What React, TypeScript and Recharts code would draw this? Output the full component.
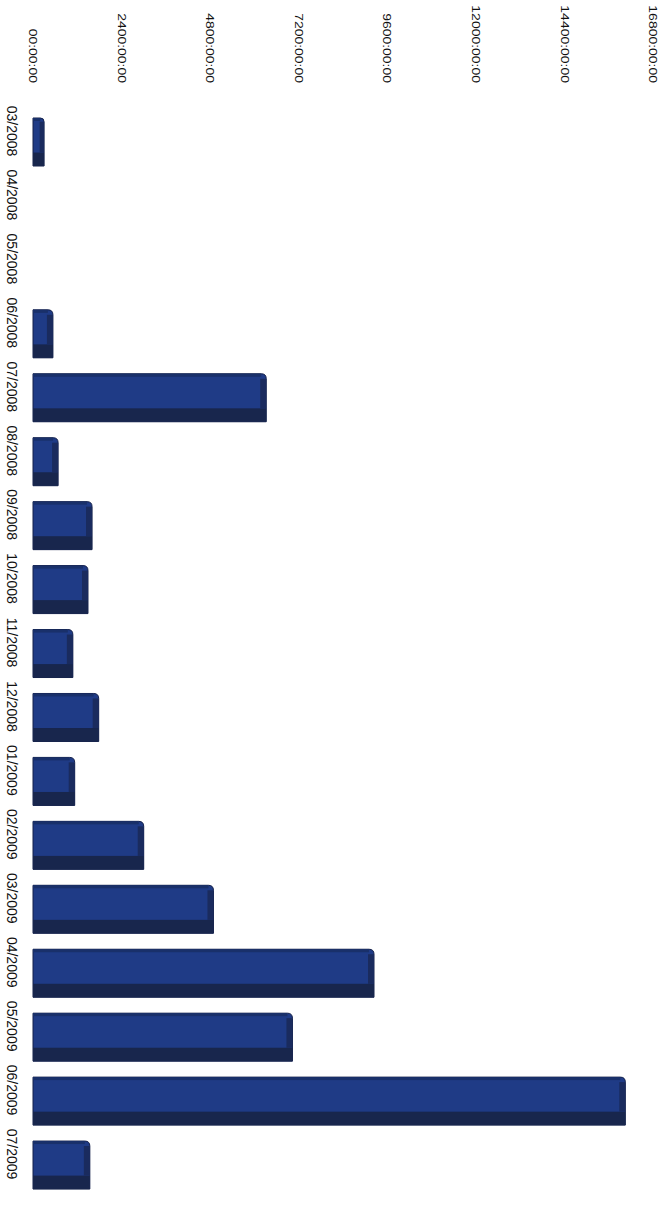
import React from "react";
import { BarChart, Bar, XAxis, YAxis } from "recharts";

const months = [
  "03/2008", "04/2008", "05/2008", "06/2008", "07/2008", "08/2008",
  "09/2008", "10/2008", "11/2008", "12/2008", "01/2009", "02/2009",
  "03/2009", "04/2009", "05/2009", "06/2009", "07/2009",
];

// hours per month
const hours = [
  300, 0, 0, 540, 6320, 680, 1600, 1490, 1080, 1780, 1130, 3000,
  4890, 9240, 7030, 16050, 1540,
];

const hourTicks = [0, 2400, 4800, 7200, 9600, 12000, 14400, 16800];

const data = months.map((m, i) => ({ month: m, hours: hours[i] }));

const fmtHours = (v: number) => `${v === 0 ? "00" : v}:00:00`;

const HourTick = (props: any) => {
  const { x, payload } = props;
  return (
    <text
      transform={`translate(${x}, 83) rotate(90) scale(1.27, 1)`}
      textAnchor="end"
      dy="0.35em"
      fontSize={11}
      fontFamily="Liberation Sans, Arial, sans-serif"
      fill="#111"
    >
      {fmtHours(payload.value)}
    </text>
  );
};

const MonthTick = (props: any) => {
  const { y, payload } = props;
  return (
    <text
      transform={`translate(12, ${y - 11}) rotate(90)`}
      textAnchor="middle"
      dy="0.35em"
      fontSize={14}
      fontFamily="Liberation Sans, Arial, sans-serif"
      fill="#111"
    >
      {payload.value}
    </text>
  );
};

// flat bar with a darker lower band and end face, to look like the 3d original
const BoxBar = (props: any) => {
  const { x, y, width, height } = props;
  if (!width || width <= 0) return null;
  const end = Math.min(6, width * 0.4);
  const r = Math.min(5, width / 3);
  const body = `M${x},${y} H${x + width - r} Q${x + width},${y} ${x + width},${y + r} V${y + height} H${x} Z`;
  return (
    <g>
      <path d={body} fill="#1f3b86" stroke="#15214a" strokeWidth={1} />
      <rect x={x} y={y} width={width - r} height={3} fill="#19306a" />
      <rect
        x={x}
        y={y + height * 0.72}
        width={width}
        height={height * 0.28}
        fill="#18264d"
      />
      <rect
        x={x + width - end}
        y={y + r}
        width={end}
        height={height * 0.72 - r}
        fill="#1a2b5e"
      />
    </g>
  );
};

export default function App() {
  return (
    <div style={{ position: "absolute", left: 0, top: 0, background: "#fff" }}>
      <BarChart
        width={670}
        height={1209}
        data={data}
        layout="vertical"
        margin={{ top: 0, right: 17, bottom: 12, left: 0 }}
      >
        <XAxis
          type="number"
          orientation="top"
          domain={[0, 16800]}
          ticks={hourTicks}
          height={110}
          axisLine={false}
          tickLine={false}
          tick={<HourTick />}
          interval={0}
        />
        <YAxis
          type="category"
          dataKey="month"
          width={33}
          axisLine={false}
          tickLine={false}
          tick={<MonthTick />}
          interval={0}
        />
        <Bar
          dataKey="hours"
          barSize={48}
          shape={<BoxBar />}
          isAnimationActive={false}
        />
      </BarChart>
    </div>
  );
}
